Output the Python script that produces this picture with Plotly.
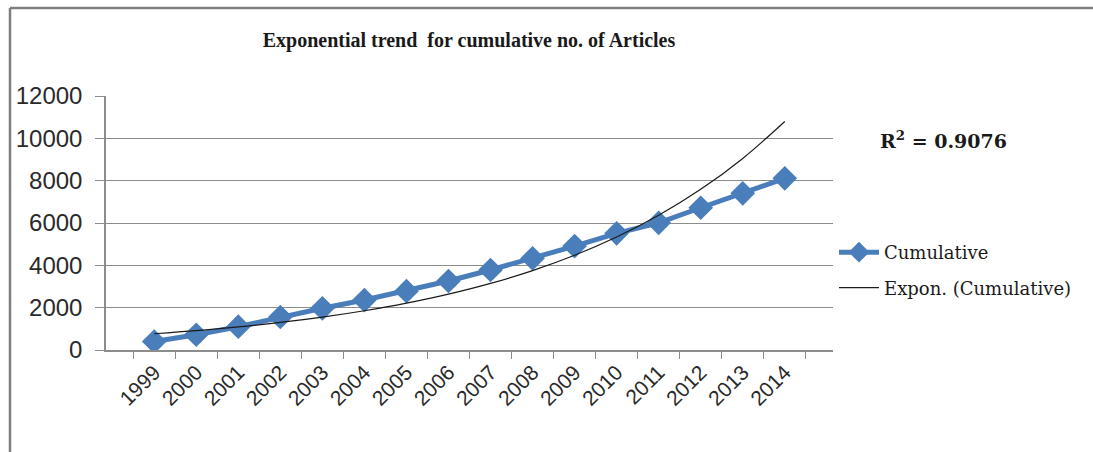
import numpy as np
import plotly.graph_objects as go

years = ["1999", "2000", "2001", "2002", "2003", "2004", "2005", "2006",
         "2007", "2008", "2009", "2010", "2011", "2012", "2013", "2014"]
cumulative = [400, 720, 1100, 1560, 1970, 2360, 2780, 3260,
              3780, 4330, 4910, 5510, 6010, 6720, 7400, 8110]
r2_text = "R<sup>2</sup> = 0.9076"
title_text = "Exponential trend  for cumulative no. of Articles"

# Exponential trendline (least squares on log values, as a spreadsheet does)
idx = np.arange(1, len(years) + 1)
b, a = np.polyfit(idx, np.log(cumulative), 1)
trend = np.exp(a + b * idx)

W, H = 1093, 452
L, R, T, B = 106, 833, 96, 350

fig = go.Figure()
fig.add_trace(go.Scatter(
    x=years, y=cumulative, name="Cumulative", mode="lines+markers",
    legendgroup="a",
    line=dict(color="#4a7ebb", width=5),
    marker=dict(symbol="diamond", size=19, color="#4a7ebb"),
))
fig.add_trace(go.Scatter(
    x=years, y=trend, name="Expon. (Cumulative)", mode="lines",
    legendgroup="b",
    line=dict(color="#1a1a1a", width=1.2, shape="spline"),
))

fig.update_layout(
    width=W, height=H,
    margin=dict(l=L, r=W - R, t=T, b=H - B),
    paper_bgcolor="white", plot_bgcolor="white",
    showlegend=True,
    legend=dict(
        x=(834 - L) / (R - L), xanchor="left",
        y=(B - 234) / (B - T), yanchor="top",
        font=dict(family="DejaVu Serif", size=18, color="#1a1a1a"),
        bgcolor="rgba(0,0,0,0)", itemwidth=40, tracegroupgap=9,
    ),
    title=dict(
        text="<b>" + title_text + "</b>",
        x=(469) / W, xanchor="center", y=1 - 40 / H, yanchor="middle",
        font=dict(family="Liberation Serif", size=20, color="#1a1a1a"),
    ),
)
fig.update_xaxes(
    type="category", tickson="boundaries", ticks="outside", ticklen=7,
    tickcolor="#8c8c8c", showline=True, linecolor="#8c8c8c", linewidth=1.5,
    showgrid=False, tickangle=-45,
    tickfont=dict(family="Liberation Sans", size=21, color="#2a2a2a"),
)
fig.update_yaxes(
    range=[0, 12000], dtick=2000, tickformat="d", ticks="outside", ticklen=9,
    tickcolor="#8c8c8c", showline=True, linecolor="#8c8c8c", linewidth=1.5,
    showgrid=True, gridcolor="#8c8c8c", gridwidth=1.2, zeroline=False,
    tickfont=dict(family="Liberation Sans", size=24, color="#2a2a2a"),
    ticklabelstandoff=8,
)

fig.add_annotation(
    text="<b>" + r2_text + "</b>", xref="paper", yref="paper",
    x=(943 - L) / (R - L), y=(B - 140) / (B - T), xanchor="center", yanchor="middle",
    showarrow=False, font=dict(family="DejaVu Serif", size=19, color="#1a1a1a"),
)

# outer chart border (top and left edges visible)
fig.add_shape(type="line", xref="paper", yref="paper",
              x0=(10 - L) / (R - L), x1=(W + 5 - L) / (R - L),
              y0=(B - 8) / (B - T), y1=(B - 8) / (B - T),
              line=dict(color="#7f7f7f", width=2.5))
fig.add_shape(type="line", xref="paper", yref="paper",
              x0=(10 - L) / (R - L), x1=(10 - L) / (R - L),
              y0=(B - 8) / (B - T), y1=(B - H - 5) / (B - T),
              line=dict(color="#7f7f7f", width=2.5))

fig.write_html("out.html")
